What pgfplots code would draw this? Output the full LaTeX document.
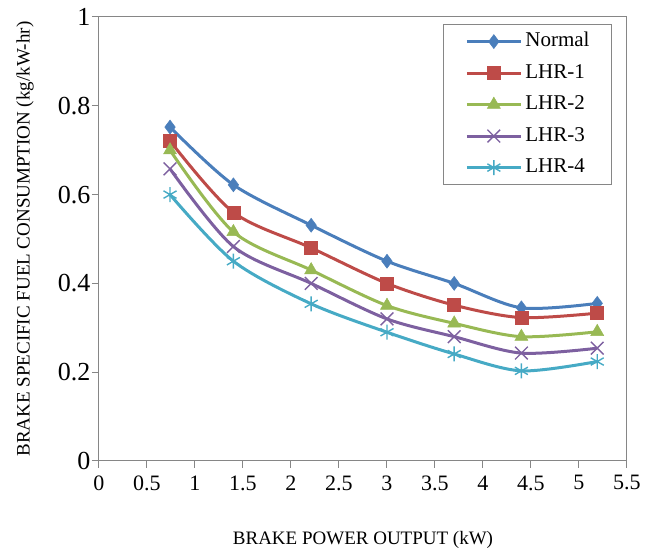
\documentclass[border=0pt]{standalone}
\usepackage{fontspec}
\setmainfont{Liberation Serif}
\usepackage{pgfplots}
\pgfplotsset{compat=1.18}
\definecolor{axisgray}{HTML}{868686}
\definecolor{cnormal}{HTML}{4A7EBB}
\definecolor{clhra}{HTML}{BE4B48}
\definecolor{clhrb}{HTML}{98B954}
\definecolor{clhrc}{HTML}{7D60A0}
\definecolor{clhrd}{HTML}{46AAC5}
\pgfplotsset{
  bsfc line/.style={line width=3pt, smooth, tension=0.5,
    mark options={solid, line width=1.4pt}}
}
\begin{document}
\begin{tikzpicture}
\begin{axis}[
  scale only axis,
  width=528pt, height=444pt,
  xmin=0, xmax=5.5, ymin=0, ymax=1,
  xtick={0,0.5,1,1.5,2,2.5,3,3.5,4,4.5,5,5.5},
  ytick={0,0.2,0.4,0.6,0.8,1},
  tick pos=left,
  tick align=outside,
  major tick length=7pt,
  axis line style={draw=axisgray, line width=1pt},
  tick style={draw=axisgray, line width=1pt},
  /pgf/number format/assume math mode=true,
  xticklabel style={font=\fontsize{22}{22}\selectfont\rmfamily, yshift=-4pt},
  yticklabel style={font=\fontsize{26}{26}\selectfont\rmfamily, xshift=2pt},
  xlabel={BRAKE POWER OUTPUT (kW)},
  ylabel={BRAKE SPECIFIC FUEL CONSUMPTION (kg/kW-hr)},
  xlabel style={font=\fontsize{19}{19}\selectfont, at={(axis description cs:0.5,-0.178)}, anchor=center},
  ylabel style={font=\fontsize{19}{19}\selectfont, at={(axis description cs:-0.140,0.5)}, anchor=center},
  legend image code/.code={
    \draw[mark repeat=2,mark phase=2,#1] plot coordinates {(0pt,0pt) (27pt,0pt) (54pt,0pt)};},
  legend style={at={(axis description cs:0.9716,0.984)}, anchor=north east,
    draw=axisgray, line width=1pt, font=\fontsize{21}{21}\selectfont\rmfamily,
    inner xsep=22pt, inner ysep=7pt, row sep=11.5pt,
    nodes={inner sep=0pt, text height=15pt, text depth=5pt, anchor=west},
    /tikz/every odd column/.append style={column sep=3pt}},
  legend cell align=left,
]
\addplot[bsfc line, color=cnormal, mark=diamond*, mark size=7pt, mark options={fill=cnormal, line width=0.5pt}] coordinates {
  (0.74,0.752) (1.40,0.622) (2.21,0.531) (3.00,0.450) (3.70,0.400) (4.40,0.345) (5.19,0.355)
};
\addlegendentry{Normal}
\addplot[bsfc line, color=clhra, mark=square*, mark size=6.5pt, mark options={fill=clhra, line width=0.5pt}] coordinates {
  (0.74,0.721) (1.40,0.560) (2.21,0.480) (3.00,0.400) (3.70,0.351) (4.40,0.323) (5.19,0.333)
};
\addlegendentry{LHR-1}
\addplot[bsfc line, color=clhrb, mark=triangle*, mark size=7.5pt, mark options={fill=clhrb, line width=0.5pt}] coordinates {
  (0.74,0.700) (1.40,0.516) (2.21,0.430) (3.00,0.350) (3.70,0.310) (4.40,0.280) (5.19,0.291)
};
\addlegendentry{LHR-2}
\addplot[bsfc line, color=clhrc, mark=x, mark size=9pt] coordinates {
  (0.74,0.658) (1.40,0.483) (2.21,0.400) (3.00,0.320) (3.70,0.280) (4.40,0.243) (5.19,0.254)
};
\addlegendentry{LHR-3}
\addplot[bsfc line, color=clhrd, mark=asterisk, mark size=7.5pt] coordinates {
  (0.74,0.600) (1.40,0.450) (2.21,0.354) (3.00,0.290) (3.70,0.241) (4.40,0.203) (5.19,0.224)
};
\addlegendentry{LHR-4}
\end{axis}
\pgfresetboundingbox
\path[use as bounding box] (-99pt,-90pt) rectangle (560pt,461pt);
\end{tikzpicture}
\end{document}
